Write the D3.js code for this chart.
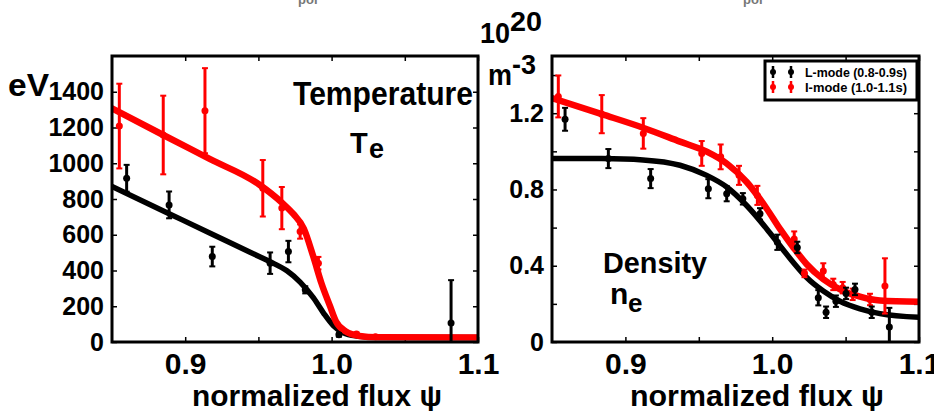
<!DOCTYPE html>
<html>
<head>
<meta charset="utf-8">
<script src="https://cdn.jsdelivr.net/npm/d3@7"></script>
<style>
  html, body { margin: 0; padding: 0; background: #fff; }
  svg { display: block; }
  text { font-family: "Liberation Sans", Arial, sans-serif; font-weight: bold; }
</style>
</head>
<body>
<svg id="chart" width="934" height="411"></svg>
<script>
// ---------------- DATA ----------------
const xDomain = [0.85, 1.1];
const xTickValues = [0.9, 0.95, 1.0, 1.05, 1.1];
const xTickLabels = { "0.9": "0.9", "1": "1.0", "1.1": "1.1" };

const teDomain = [0, 1600];
const teTickValues = [0, 200, 400, 600, 800, 1000, 1200, 1400];
const neDomain = [0, 1.5];
const neTickValues = [0, 0.2, 0.4, 0.6, 0.8, 1.0, 1.2, 1.4];
const neTickLabels = { "0": "0", "0.4": "0.4", "0.8": "0.8", "1.2": "1.2" };

// Temperature, L-mode measurements [psi, Te (eV), error]
const teLmodePts = [
  [0.860, 916, 75], [0.889, 767, 75], [0.9185, 478, 55], [0.958, 441, 60],
  [0.9705, 506, 60], [0.982, 292, 20], [1.005, 40, 10], [1.0816, 106, 240]
];
// Temperature, I-mode measurements
const teImodePts = [
  [0.855, 1208, 237], [0.885, 1158, 220], [0.9135, 1294, 238], [0.953, 860, 158],
  [0.966, 749, 118], [0.9785, 618, 40], [0.991, 441, 35], [1.017, 45, 8], [1.030, 30, 6]
];
// Temperature fit curves
const teLmodeFitX = [0.85, 0.889, 0.9185, 0.9505, 0.958, 0.9695, 0.9785, 0.9875, 0.9945, 1.0013, 1.008, 1.017, 1.031, 1.1];
const teLmodeFitY = [870, 718, 603, 478, 449, 398, 335, 248, 162, 91, 52, 34, 26, 25];
const teImodeFitX = [0.85, 0.885, 0.917, 0.9505, 0.966, 0.974, 0.981, 0.9875, 0.993, 0.999, 1.003, 1.0097, 1.019, 1.031, 1.1];
const teImodeFitY = [1307, 1158, 1023, 881, 780, 715, 635, 478, 330, 199, 115, 59, 34, 26, 25];

// Density, L-mode measurements [psi, ne (1e20 m^-3), error]
const neLmodePts = [
  [0.8589, 1.168, 0.06], [0.8884, 0.962, 0.05], [0.9172, 0.857, 0.05], [0.9565, 0.804, 0.05],
  [0.969, 0.778, 0.04], [0.980, 0.751, 0.03], [0.9917, 0.672, 0.03], [1.0035, 0.523, 0.04],
  [1.0171, 0.496, 0.03], [1.0314, 0.232, 0.04], [1.0367, 0.156, 0.03], [1.0434, 0.214, 0.03],
  [1.0503, 0.255, 0.03], [1.0564, 0.276, 0.03], [1.0678, 0.156, 0.03], [1.0798, 0.079, 0.1]
];
// Density, I-mode measurements
const neImodePts = [
  [0.8543, 1.288, 0.11], [0.8839, 1.195, 0.10], [0.9122, 1.094, 0.08], [0.952, 0.989, 0.065],
  [0.9649, 0.971, 0.065], [0.9774, 0.874, 0.05], [0.9899, 0.769, 0.05], [1.015, 0.540, 0.04],
  [1.022, 0.360, 0.02], [1.0348, 0.373, 0.04], [1.0416, 0.302, 0.03], [1.048, 0.285, 0.03],
  [1.0548, 0.250, 0.03], [1.0666, 0.223, 0.03], [1.0768, 0.294, 0.145]
];
// Density fit curves
const neFitX = [0.85, 0.8839, 0.912, 0.9372, 0.9554, 0.969, 0.9826, 0.9963, 1.0053, 1.0144, 1.0235, 1.0348, 1.0462, 1.0598, 1.0734, 1.1];
const neLmodeFitY = [0.963, 0.962, 0.955, 0.927, 0.874, 0.813, 0.716, 0.593, 0.505, 0.417, 0.338, 0.267, 0.214, 0.174, 0.149, 0.130];
const neImodeFitY = [1.279, 1.195, 1.124, 1.051, 0.998, 0.936, 0.839, 0.699, 0.593, 0.496, 0.408, 0.329, 0.276, 0.238, 0.218, 0.211];

const legendLabels = ["L-mode (0.8-0.9s)", "I-mode (1.0-1.1s)"];
const seriesColors = ["#000000", "#ff0000"];

// ---------------- DRAW ----------------
const svg = d3.select("#chart");

function txt(g, s, x, y, size, opts = {}) {
  const t = g.append("text").attr("x", x).attr("y", y)
    .attr("font-size", size).attr("fill", opts.fill || "#000")
    .attr("text-anchor", opts.anchor || "start").text(s);
  if (opts.len) t.attr("textLength", opts.len).attr("lengthAdjust", "spacingAndGlyphs");
  return t;
}

function panel(box, yDomain, yTicks, yFmt, id) {
  const x = d3.scaleLinear().domain(xDomain).range([box.x0, box.x1]);
  const y = d3.scaleLinear().domain(yDomain).range([box.y1, box.y0]);
  const g = svg.append("g");

  svg.append("clipPath").attr("id", id).append("rect")
    .attr("x", box.x0).attr("y", box.y0)
    .attr("width", box.x1 - box.x0).attr("height", box.y1 - box.y0);

  const bottom = g.append("g").attr("transform", `translate(0,${box.y1})`)
    .call(d3.axisBottom(x).tickValues(xTickValues).tickSizeInner(-5).tickSizeOuter(0).tickPadding(11)
      .tickFormat(d => xTickLabels[String(+d.toFixed(2))] || ""));
  bottom.selectAll("text").attr("font-size", 30).attr("fill", "#000")
    .attr("font-family", '"Liberation Sans", Arial, sans-serif').attr("font-weight", "bold");
  g.append("g").attr("transform", `translate(0,${box.y0})`)
    .call(d3.axisTop(x).tickValues(xTickValues).tickSizeInner(-5).tickSizeOuter(0).tickFormat(""));
  const left = g.append("g").attr("transform", `translate(${box.x0},0)`)
    .call(d3.axisLeft(y).tickValues(yTicks).tickSizeInner(-5).tickSizeOuter(0).tickPadding(8).tickFormat(yFmt));
  left.selectAll("text").attr("font-size", 25).attr("fill", "#000")
    .attr("font-family", '"Liberation Sans", Arial, sans-serif').attr("font-weight", "bold");
  g.append("g").attr("transform", `translate(${box.x1},0)`)
    .call(d3.axisRight(y).tickValues(yTicks).tickSizeInner(-5).tickSizeOuter(0).tickFormat(""));
  g.selectAll(".domain").remove();
  g.selectAll(".tick line").attr("stroke", "#000").attr("stroke-width", 1.5);

  const plot = svg.append("g").attr("clip-path", `url(#${id})`);
  return { x, y, g, plot };
}

function fitLine(p, xs, ys, color, w) {
  const pts = xs.map((v, i) => [v, ys[i]]);
  p.plot.append("path").datum(pts)
    .attr("fill", "none").attr("stroke", color).attr("stroke-width", w)
    .attr("stroke-linejoin", "round").attr("stroke-linecap", "round")
    .attr("d", d3.line().x(d => p.x(d[0])).y(d => p.y(d[1])).curve(d3.curveMonotoneX));
}

function errPoints(p, pts, color) {
  const gg = p.plot.append("g");
  const sel = gg.selectAll("g").data(pts).join("g");
  sel.append("line")
    .attr("x1", d => p.x(d[0])).attr("x2", d => p.x(d[0]))
    .attr("y1", d => p.y(d[1] - d[2])).attr("y2", d => p.y(d[1] + d[2]))
    .attr("stroke", color).attr("stroke-width", 3);
  [1, -1].forEach(s => sel.append("line")
    .attr("x1", d => p.x(d[0]) - 3).attr("x2", d => p.x(d[0]) + 3)
    .attr("y1", d => p.y(d[1] + s * d[2])).attr("y2", d => p.y(d[1] + s * d[2]))
    .attr("stroke", color).attr("stroke-width", 2));
  sel.append("circle").attr("cx", d => p.x(d[0])).attr("cy", d => p.y(d[1]))
    .attr("r", 3.5).attr("fill", color);
}

// ---- Temperature panel
const L = { x0: 112, x1: 478, y0: 56, y1: 342 };
const pT = panel(L, teDomain, teTickValues, d => String(d), "clipT");
fitLine(pT, teLmodeFitX, teLmodeFitY, seriesColors[0], 5.5);
fitLine(pT, teImodeFitX, teImodeFitY, seriesColors[1], 6.5);
errPoints(pT, teImodePts, seriesColors[1]);
errPoints(pT, teLmodePts, seriesColors[0]);
svg.append("rect").attr("x", L.x0).attr("y", L.y0).attr("width", L.x1 - L.x0).attr("height", L.y1 - L.y0)
  .attr("fill", "none").attr("stroke", "#000").attr("stroke-width", 3);

// ---- Density panel
const R = { x0: 552, x1: 919, y0: 56, y1: 342 };
const pN = panel(R, neDomain, neTickValues, d => neTickLabels[String(+d.toFixed(2))] || "", "clipN");
fitLine(pN, neFitX, neLmodeFitY, seriesColors[0], 5.5);
fitLine(pN, neFitX, neImodeFitY, seriesColors[1], 6.5);
errPoints(pN, neImodePts, seriesColors[1]);
errPoints(pN, neLmodePts, seriesColors[0]);
svg.append("rect").attr("x", R.x0).attr("y", R.y0).attr("width", R.x1 - R.x0).attr("height", R.y1 - R.y0)
  .attr("fill", "none").attr("stroke", "#000").attr("stroke-width", 3);

// ---- Legend
const lg = svg.append("g");
lg.append("rect").attr("x", 765).attr("y", 61).attr("width", 152).attr("height", 39)
  .attr("fill", "#fff").attr("stroke", "#000").attr("stroke-width", 3);
legendLabels.forEach((lab, i) => {
  const cy = 72 + i * 15;
  [773, 791].forEach(cx => {
    lg.append("line").attr("x1", cx).attr("x2", cx).attr("y1", cy - 6).attr("y2", cy + 6)
      .attr("stroke", seriesColors[i]).attr("stroke-width", 2.5);
    lg.append("circle").attr("cx", cx).attr("cy", cy).attr("r", 3).attr("fill", seriesColors[i]);
  });
  txt(lg, lab, 805, cy + 4.5, 12.4, { len: 102 });
});

// ---- Labels
const tg = svg.append("g");
txt(tg, "eV", 8, 96, 31, { len: 41 });
txt(tg, "Temperature", 293, 105, 33, { len: 180 });
txt(tg, "T", 350, 153, 29);
txt(tg, "e", 369, 158, 27);
txt(tg, "Density", 603, 273, 30, { len: 104 });
txt(tg, "n", 610, 304, 30);
txt(tg, "e", 628, 312, 26);
txt(tg, "10", 480, 43, 29, { len: 30 });
txt(tg, "20", 510, 31, 27, { len: 32 });
txt(tg, "m", 488, 85, 30, { len: 24 });
txt(tg, "-3", 512, 74, 27, { len: 24 });
txt(tg, "normalized flux ψ", 317, 406, 29, { anchor: "middle", len: 250 });
txt(tg, "normalized flux ψ", 757, 406, 29, { anchor: "middle", len: 254 });
// cut-off fragments of text above the frame
txt(tg, "pol", 298, 4, 13, { fill: "#777" }).attr("font-weight", "normal");
txt(tg, "pol", 743, 4, 13, { fill: "#777" }).attr("font-weight", "normal");
</script>
</body>
</html>
